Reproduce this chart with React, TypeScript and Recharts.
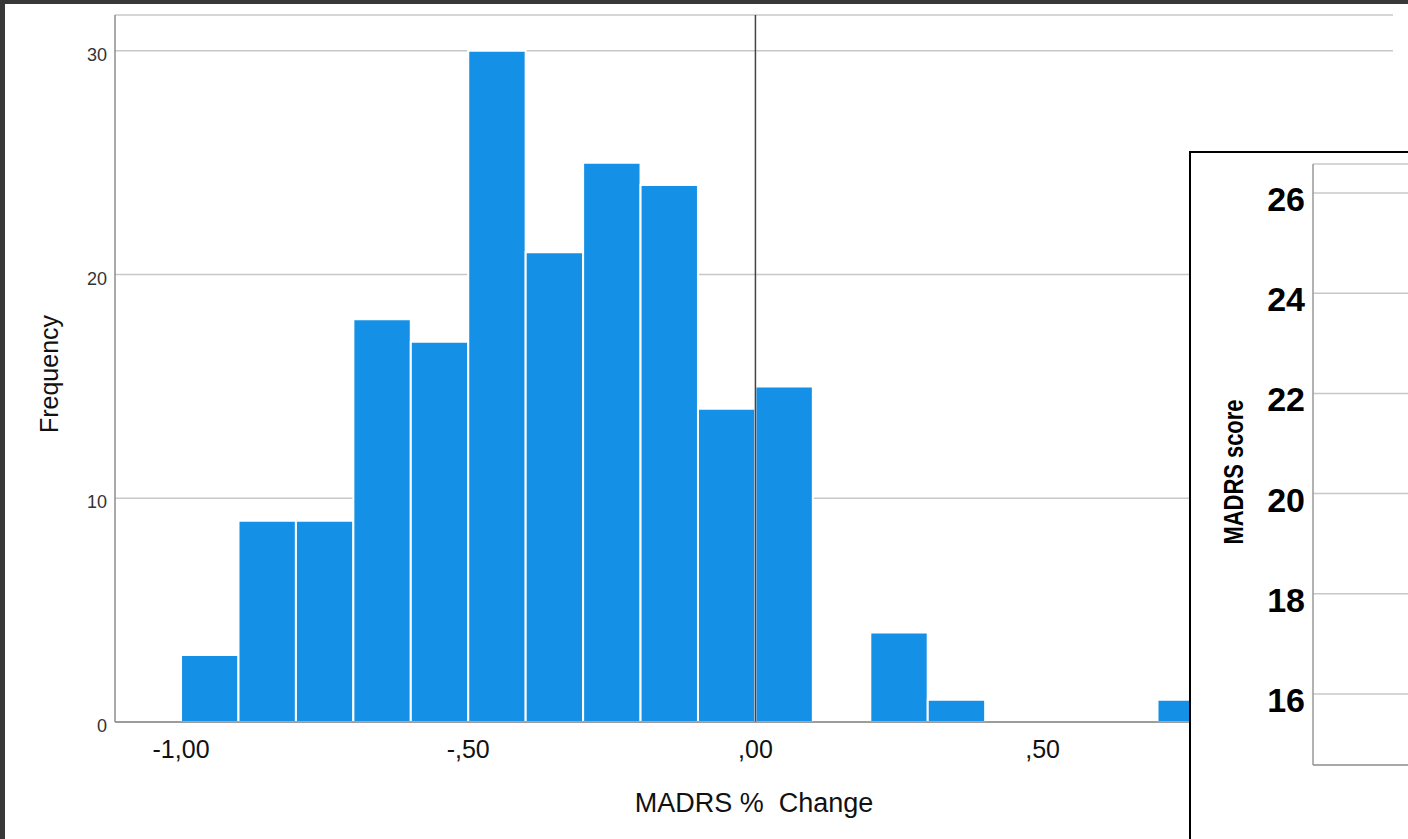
import React from 'react';
import { ComposedChart, Bar, XAxis, YAxis, CartesianGrid, ReferenceLine, Label, LineChart } from 'recharts';

// Histogram bins (lower edge) and frequencies
const binStarts = [-1.0, -0.9, -0.8, -0.7, -0.6, -0.5, -0.4, -0.3, -0.2, -0.1, 0.0, 0.1, 0.2, 0.3, 0.4, 0.5, 0.6, 0.7];
const frequencies = [3, 9, 9, 18, 17, 30, 21, 25, 24, 14, 15, 0, 4, 1, 0, 0, 0, 1];
const binWidth = 0.1;

const xTicks = [-1, -0.5, 0, 0.5, 1];
const xTickLabels = ['-1,00', '-,50', ',00', ',50', '1,00'];
const yTicks = [0, 10, 20, 30];

const panelTicks = [16, 18, 20, 22, 24, 26];

const xTitle = 'MADRS %  Change';
const yTitle = 'Frequency';
const panelYTitle = 'MADRS score';

const histData = binStarts.map((s, i) => ({ mid: +(s + binWidth / 2).toFixed(3), count: frequencies[i] }));

const FONT = '"Liberation Sans", Arial, sans-serif';

const XTick = (props: any) => {
  const { x, y, payload } = props;
  const idx = xTicks.indexOf(payload.value);
  return (
    <text x={x} y={y + 36} textAnchor="middle" fontSize={25} fontFamily={FONT} fill="#111">
      {idx >= 0 ? xTickLabels[idx] : ''}
    </text>
  );
};

const YTick = (props: any) => {
  const { x, y, payload } = props;
  return (
    <text x={x - 8} y={y + 10} textAnchor="end" fontSize={18} fontFamily={FONT} fill="#333">
      {payload.value}
    </text>
  );
};

const PanelYTick = (props: any) => {
  const { x, y, payload } = props;
  return (
    <text x={x - 8} y={y + 18} textAnchor="end" fontSize={34} fontWeight="bold" fontFamily={FONT} fill="#000">
      {payload.value}
    </text>
  );
};

export default function App() {
  return (
    <div style={{ position: 'fixed', left: 0, top: 0, width: 1408, height: 839, background: '#383838', overflow: 'hidden' }}>
      <div style={{ position: 'absolute', left: 5, top: 4, right: 0, bottom: 0, background: '#fff' }} />
      <div style={{ position: 'absolute', left: 0, top: 0 }}>
        <ComposedChart
          width={1408}
          height={839}
          data={histData}
          margin={{ top: 15, right: 15, left: 55, bottom: 57 }}
        >
          <CartesianGrid horizontal vertical={false} stroke="#c8c8c8" strokeWidth={1.5} />
          <XAxis
            dataKey="mid"
            type="number"
            domain={[-1.115, 1.11]}
            allowDataOverflow
            ticks={xTicks}
            tick={<XTick />}
            tickLine={false}
            tickSize={0}
            tickMargin={0}
            height={60}
            stroke="#888"
            strokeWidth={1.5}
            interval={0}
          >
            <Label
              content={(p: any) => {
                const vb = p.viewBox;
                return (
                  <text
                    x={vb.x + vb.width / 2}
                    y={vb.y + 90}
                    textAnchor="middle"
                    fontSize={27}
                    fontFamily={FONT}
                    fill="#111"
                    style={{ whiteSpace: 'pre' }}
                  >
                    {xTitle}
                  </text>
                );
              }}
            />
          </XAxis>
          <YAxis
            type="number"
            domain={[0, 31.6]}
            allowDataOverflow
            ticks={yTicks}
            tick={<YTick />}
            tickLine={false}
            tickSize={0}
            tickMargin={0}
            width={60}
            stroke="#8c8c8c"
            strokeWidth={1.5}
            interval={0}
          >
            <Label
              content={(p: any) => {
                const vb = p.viewBox;
                const cx = vb.x + 3;
                const cy = vb.y + vb.height / 2 + 5.5;
                return (
                  <text
                    x={cx}
                    y={cy}
                    transform={`rotate(-90, ${cx}, ${cy})`}
                    textAnchor="middle"
                    fontSize={25}
                    fontFamily={FONT}
                    fill="#111"
                  >
                    {yTitle}
                  </text>
                );
              }}
            />
          </YAxis>
          <Bar dataKey="count" fill="#1490E6" stroke="#ffffff" strokeWidth={2} barSize={57.4} isAnimationActive={false} />
          <ReferenceLine x={0} stroke="#444" strokeWidth={1.5} ifOverflow="visible" />
        </ComposedChart>
      </div>
      <div
        style={{
          position: 'absolute',
          left: 1189,
          top: 151,
          width: 260,
          height: 720,
          border: '2px solid #000',
          background: '#fff',
        }}
      >
        <LineChart width={260} height={720} data={[]} margin={{ top: 11, right: 0, left: 22, bottom: 107 }}>
          <CartesianGrid horizontal vertical={false} stroke="#c8c8c8" strokeWidth={1.5} />
          <XAxis type="number" domain={[0, 1]} tick={false} tickLine={false} height={1} stroke="#999" strokeWidth={1.5} />
          <YAxis
            type="number"
            domain={[14.58, 26.58]}
            allowDataOverflow
            ticks={panelTicks}
            tick={<PanelYTick />}
            tickLine={false}
            tickSize={0}
            tickMargin={0}
            width={100}
            stroke="#999"
            strokeWidth={1.5}
            interval={0}
          >
            <Label
              content={(p: any) => {
                const vb = p.viewBox;
                const cx = vb.x + 30;
                const cy = vb.y + vb.height / 2 + 7.5;
                return (
                  <text
                    x={cx}
                    y={cy}
                    transform={`rotate(-90, ${cx}, ${cy})`}
                    textAnchor="middle"
                    fontSize={28}
                    fontWeight="bold"
                    fontFamily={FONT}
                    fill="#000"
                    textLength={145}
                    lengthAdjust="spacingAndGlyphs"
                  >
                    {panelYTitle}
                  </text>
                );
              }}
            />
          </YAxis>
        </LineChart>
      </div>
    </div>
  );
}
